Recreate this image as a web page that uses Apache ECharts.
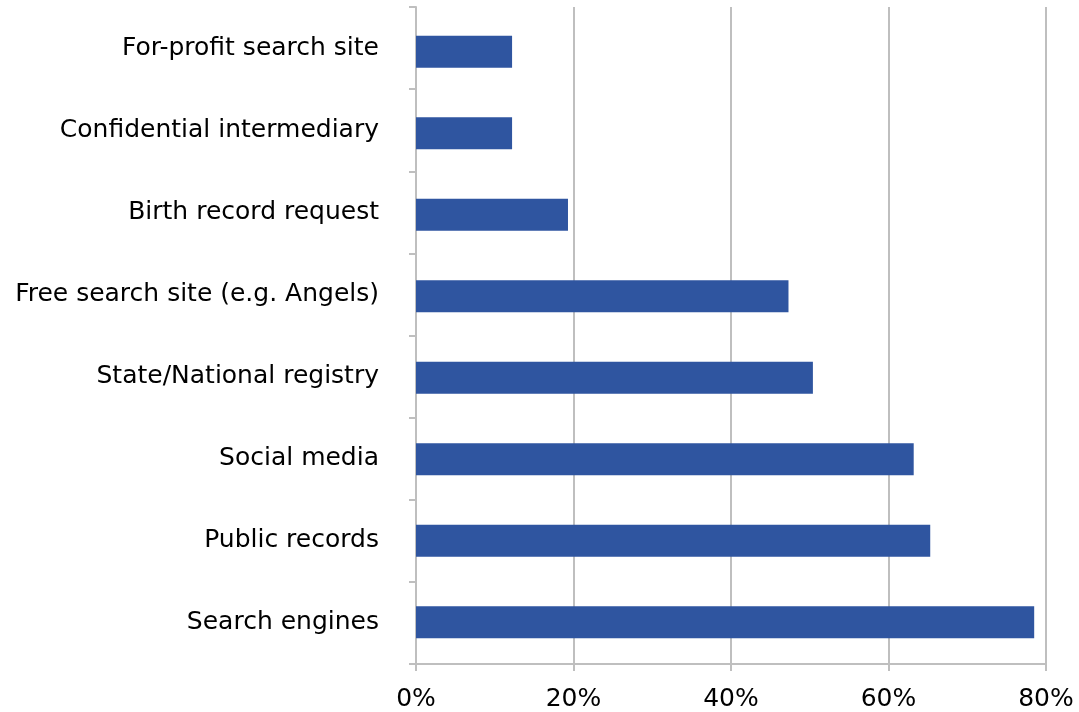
<!DOCTYPE html>
<html>
<head>
<meta charset="utf-8">
<script src="https://cdn.jsdelivr.net/npm/echarts@6/dist/echarts.min.js"></script>
<style>
  html, body { margin: 0; padding: 0; background: #fff; }
  #main { width: 1079px; height: 712px; }
</style>
</head>
<body>
<div id="main"></div>
<script>
// categories listed bottom to top, as the y axis draws them
const categories = [
  "Search engines",
  "Public records",
  "Social media",
  "State/National registry",
  "Free search site (e.g. Angels)",
  "Birth record request",
  "Confidential intermediary",
  "For-profit search site"
];
const shares = [78.5, 65.3, 63.2, 50.4, 47.3, 19.3, 12.2, 12.2];
const xTicks = [0, 20, 40, 60, 80];

const chart = echarts.init(document.getElementById("main"));
const axisGrey = "#bfbfbf";

const option = {
  animation: false,
  textStyle: { fontFamily: "DejaVu Sans" },
  // grid 0 holds axes, ticks, labels; grid 1 holds the bars (slightly tighter band like the original)
  grid: [
    { left: 416, right: 33, top: 7, bottom: 46, containLabel: false },
    { left: 416, right: 33, top: 11, bottom: 49, containLabel: false }
  ],
  xAxis: [{
    type: "value",
    gridIndex: 0,
    min: xTicks[0],
    max: xTicks[xTicks.length - 1],
    interval: 20,
    axisLine: { show: true, lineStyle: { color: axisGrey, width: 2 } },
    axisTick: { show: true, length: 7, lineStyle: { color: axisGrey, width: 2 } },
    splitLine: { show: true, lineStyle: { color: axisGrey, width: 2 } },
    axisLabel: {
      formatter: v => v + "%",
      color: "#000",
      fontSize: 25,
      margin: 23
    }
  }, {
    type: "value",
    gridIndex: 1,
    min: xTicks[0],
    max: xTicks[xTicks.length - 1],
    show: false
  }],
  yAxis: [{
    type: "category",
    gridIndex: 0,
    data: categories,
    axisLine: { show: true, lineStyle: { color: axisGrey, width: 2 } },
    axisTick: { show: true, length: 7, lineStyle: { color: axisGrey, width: 2 } },
    axisLabel: { color: "#000", fontSize: 25, margin: 37 }
  }, {
    type: "category",
    gridIndex: 1,
    data: categories,
    show: false
  }],
  series: [{
    type: "bar",
    xAxisIndex: 1,
    yAxisIndex: 1,
    data: shares,
    barWidth: 32,
    itemStyle: { color: "#2f55a0" }
  }]
};

chart.setOption(option);
</script>
</body>
</html>
